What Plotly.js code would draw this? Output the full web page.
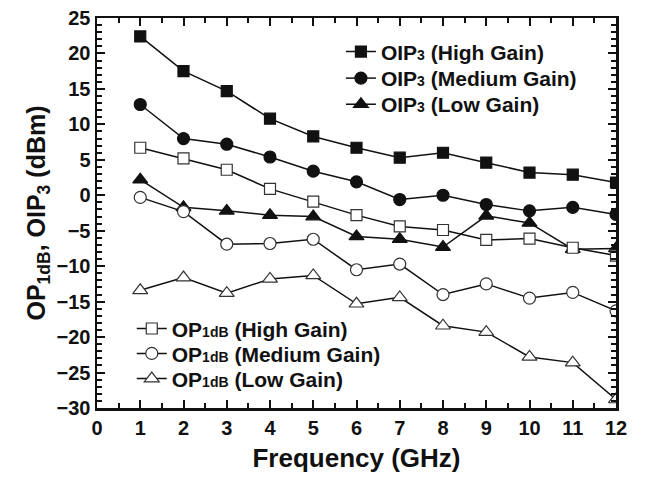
<!DOCTYPE html>
<html>
<head>
<meta charset="utf-8">
<script src="https://cdn.plot.ly/plotly-3.0.1.min.js"></script>
<style>html,body{margin:0;padding:0;background:#fff;}#chart{width:650px;height:485px;}</style>
</head>
<body>
<div id="chart"></div>
<script>
const freq = [1,2,3,4,5,6,7,8,9,10,11,12];
const oip3High   = [22.4, 17.5, 14.7, 10.8, 8.3, 6.7, 5.3, 6.0, 4.6, 3.2, 2.9, 1.8];
const oip3Medium = [12.8, 8.0, 7.2, 5.4, 3.4, 1.9, -0.6, 0.0, -1.3, -2.2, -1.7, -2.7];
const oip3Low    = [2.2, -1.7, -2.2, -2.8, -3.0, -5.8, -6.2, -7.3, -2.9, -3.9, -7.6, -7.5];
const op1High    = [6.7, 5.2, 3.6, 0.9, -0.9, -2.8, -4.4, -4.9, -6.3, -6.1, -7.4, -8.5];
const op1Medium  = [-0.3, -2.3, -6.9, -6.8, -6.2, -10.5, -9.7, -14.0, -12.5, -14.5, -13.7, -16.3];
const op1Low     = [-13.4, -11.6, -13.8, -11.8, -11.3, -15.3, -14.4, -18.4, -19.3, -22.8, -23.6, -28.8];
const names = [
  'OIP<span style="font-size:14px">3</span> (High Gain)',
  'OIP<span style="font-size:14px">3</span> (Medium Gain)',
  'OIP<span style="font-size:14px">3</span> (Low Gain)',
  'OP<span style="font-size:14px">1dB</span> (High Gain)',
  'OP<span style="font-size:14px">1dB</span> (Medium Gain)',
  'OP<span style="font-size:14px">1dB</span> (Low Gain)'
];
const xTicks = [0,1,2,3,4,5,6,7,8,9,10,11,12];
const yTicks = [-30,-25,-20,-15,-10,-5,0,5,10,15,20,25];

const legKeys = ['legend','legend2','legend3','legend4','legend5','legend6'];
function tr(y, i, sym, filled, size) {
  return {
    x: freq, y: y, name: names[i], type: 'scatter', mode: 'lines+markers',
    line: {color: '#111', width: 1.5},
    marker: {symbol: sym, size: size, color: filled ? '#111' : '#fff',
             line: {color: filled ? '#111' : '#333', width: 1.2}},
    legend: legKeys[i]
  };
}
const data = [
  tr(oip3High, 0, 'square', true, 11),
  tr(oip3Medium, 1, 'circle', true, 12),
  tr(oip3Low, 2, 'triangle-up', true, 13),
  tr(op1High, 3, 'square', false, 11),
  tr(op1Medium, 4, 'circle', false, 12),
  tr(op1Low, 5, 'triangle-up', false, 13)
];
const font = {family: 'Liberation Sans, Arial, sans-serif', color: '#111', weight: 'bold'};
const legPos = [[0.470, 0.913], [0.470, 0.845], [0.470, 0.778], [0.067, 0.203], [0.067, 0.139], [0.067, 0.0746]];
const layout = {
  width: 650, height: 485,
  margin: {l: 97, r: 34, t: 18, b: 77},
  paper_bgcolor: '#fff', plot_bgcolor: '#fff',
  showlegend: true,
  font: Object.assign({}, font, {size: 20}),
  xaxis: {
    range: [0, 12], tickmode: 'linear', tick0: xTicks[0], dtick: xTicks[1] - xTicks[0],
    ticks: 'inside', ticklen: 8, tickwidth: 2, tickcolor: '#111',
    showline: true, linewidth: 2.5, linecolor: '#111', mirror: 'allticks',
    showgrid: false, zeroline: false,
    tickfont: Object.assign({}, font, {size: 20}),
    minor: {dtick: 0.5, ticks: 'inside', ticklen: 5, tickwidth: 2, tickcolor: '#111', showgrid: false},
    title: {text: 'Frequency (GHz)', font: Object.assign({}, font, {size: 26}), standoff: 12}
  },
  yaxis: {
    range: [-30, 25], tickmode: 'linear', tick0: yTicks[0], dtick: yTicks[1] - yTicks[0],
    ticks: 'inside', ticklen: 8, tickwidth: 2, tickcolor: '#111',
    showline: true, linewidth: 2.5, linecolor: '#111', mirror: 'allticks',
    showgrid: false, zeroline: false,
    tickfont: Object.assign({}, font, {size: 20}),
    minor: {dtick: 1, ticks: 'inside', ticklen: 5, tickwidth: 2, tickcolor: '#111', showgrid: false},
    title: {text: 'OP<sub>1dB</sub>, OIP<sub>3</sub> (dBm)', font: Object.assign({}, font, {size: 25}), standoff: 4}
  }
};
legKeys.forEach((k, i) => {
  layout[k] = {
    x: legPos[i][0], y: legPos[i][1], xanchor: 'left', yanchor: 'middle',
    bgcolor: 'rgba(0,0,0,0)', borderwidth: 0,
    font: Object.assign({}, font, {size: 21})
  };
});
Plotly.newPlot('chart', data, layout, {displayModeBar: false, staticPlot: true});
</script>
</body>
</html>
